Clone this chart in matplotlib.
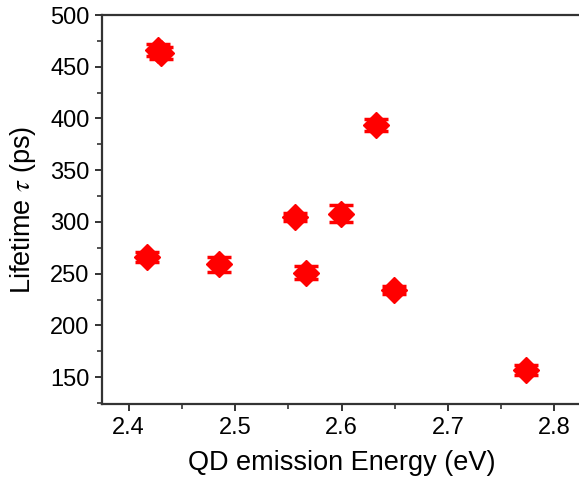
import matplotlib
matplotlib.use("Agg")
import matplotlib.pyplot as plt
from matplotlib.ticker import MultipleLocator

plt.rcParams['font.family'] = ['Liberation Sans', 'DejaVu Sans']
plt.rcParams['mathtext.fontset'] = 'stix'

energy = [2.428, 2.4305, 2.417, 2.4845, 2.5565, 2.567, 2.5994, 2.632, 2.6495, 2.773]
lifetime = [466, 463, 266, 259, 305, 251, 308, 393.5, 234, 157]
err = [6, 6, 5, 7, 4, 6.5, 8.5, 6, 4, 4.5]

xlim = (2.375, 2.825)
ylim = (124, 500)
xticks = [2.4, 2.5, 2.6, 2.7, 2.8]
yticks = [150, 200, 250, 300, 350, 400, 450, 500]

fig = plt.figure(figsize=(5.79, 4.84), dpi=100)
ax = fig.add_axes([102/579, 80/484, 479/579, 389/484])

ax.errorbar(energy, lifetime, yerr=err, fmt='D', color='#ff0000', ms=13,
            ecolor='#ff0000', elinewidth=2, capsize=8.5, capthick=2.5,
            mec='#ff0000', zorder=3)

ax.set_xlim(*xlim)
ax.set_ylim(*ylim)
ax.set_xticks(xticks)
ax.set_xticklabels([f"{v:.1f}" for v in xticks])
ax.set_yticks(yticks)
ax.xaxis.set_minor_locator(MultipleLocator(0.05))
ax.yaxis.set_minor_locator(MultipleLocator(25))

for s in ['left', 'bottom', 'top']:
    ax.spines[s].set_linewidth(1.6)
    ax.spines[s].set_color('#333333')
ax.spines['right'].set_visible(False)

ax.tick_params(which='major', direction='out', length=5, width=1.4, color='#333333',
               labelsize=17, top=False, right=False, pad=4)
ax.tick_params(which='minor', direction='out', length=3.5, width=1.2, color='#333333',
               top=False, right=False)

ax.set_xlabel('QD emission Energy (eV)', fontsize=19.5, labelpad=8)
ax.set_ylabel('Lifetime $\\tau$ (ps)', fontsize=19.5, labelpad=9)

fig.savefig('out.png', dpi=100)
